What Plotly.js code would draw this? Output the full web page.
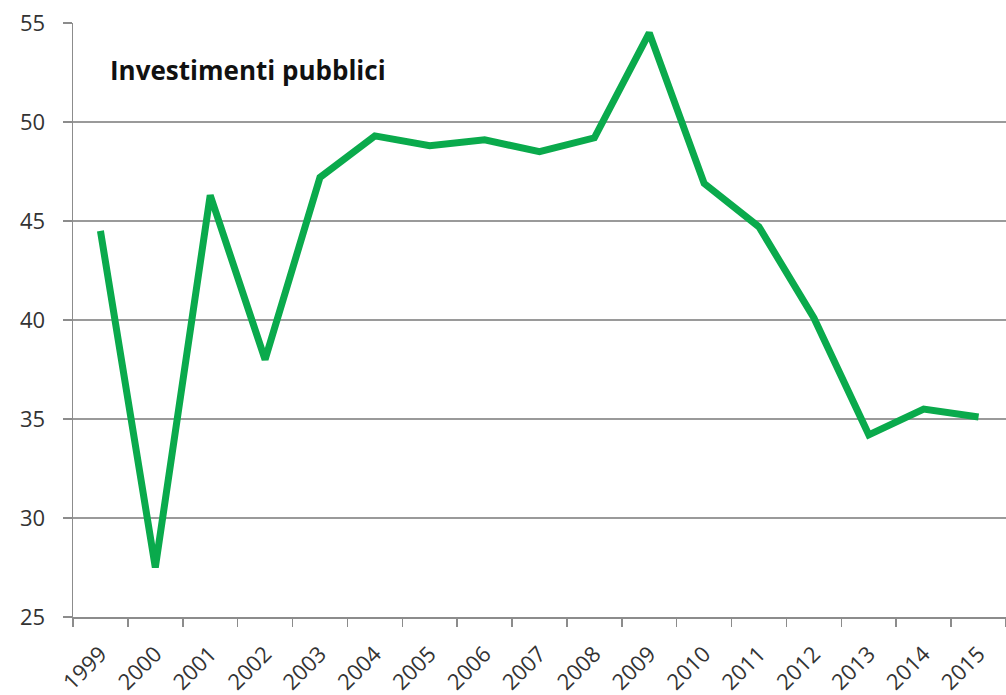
<!DOCTYPE html>
<html>
<head>
<meta charset="utf-8">
<script src="https://cdn.plot.ly/plotly-3.0.1.min.js"></script>
<style>html,body{margin:0;padding:0;background:#fff;}#chart{width:1006px;height:695px;}</style>
</head>
<body>
<div id="chart"></div>
<script>
const years = ["1999","2000","2001","2002","2003","2004","2005","2006","2007","2008","2009","2010","2011","2012","2013","2014","2015"];
const investimenti = [44.5, 27.5, 46.3, 38.0, 47.2, 49.3, 48.8, 49.1, 48.5, 49.2, 54.5, 46.9, 44.7, 40.1, 34.2, 35.5, 35.1];
const chartTitle = "Investimenti pubblici";

const trace = {
  x: years,
  y: investimenti,
  type: "scatter",
  mode: "lines",
  line: {color: "#0aaa4c", width: 7},
  hoverinfo: "x+y"
};

const layout = {
  width: 1006,
  height: 695,
  margin: {l: 73, r: 0, t: 23, b: 78},
  paper_bgcolor: "#ffffff",
  plot_bgcolor: "#ffffff",
  showlegend: false,
  font: {family: "'Open Sans', sans-serif", color: "#333333"},
  xaxis: {
    type: "category",
    range: [-0.5, 16.5],
    tickson: "boundaries",
    ticks: "outside",
    ticklen: 8,
    tickwidth: 1.5,
    tickcolor: "#8c8c8c",
    ticklabelstandoff: 14,
    showline: true,
    linecolor: "#8c8c8c",
    linewidth: 1.5,
    showgrid: false,
    tickangle: -45,
    tickfont: {size: 22, color: "#333333"},
    zeroline: false,
    fixedrange: true
  },
  yaxis: {
    range: [25, 55],
    tick0: 25,
    dtick: 5,
    ticks: "outside",
    ticklen: 9,
    tickwidth: 1.5,
    tickcolor: "#8c8c8c",
    ticklabelstandoff: 13,
    showline: true,
    linecolor: "#8c8c8c",
    linewidth: 1.5,
    showgrid: true,
    gridcolor: "#9a9a9a",
    gridwidth: 1.5,
    zeroline: false,
    tickfont: {size: 22, color: "#333333"},
    fixedrange: true
  },
  annotations: [{
    text: "<b>" + chartTitle + "</b>",
    xref: "paper", yref: "paper",
    x: 0.037, y: 0.921,
    xanchor: "left", yanchor: "middle",
    showarrow: false,
    font: {size: 26, color: "#111111", family: "'Open Sans', sans-serif"}
  }]
};

Plotly.newPlot("chart", [trace], layout, {displayModeBar: false, staticPlot: true});
</script>
</body>
</html>
